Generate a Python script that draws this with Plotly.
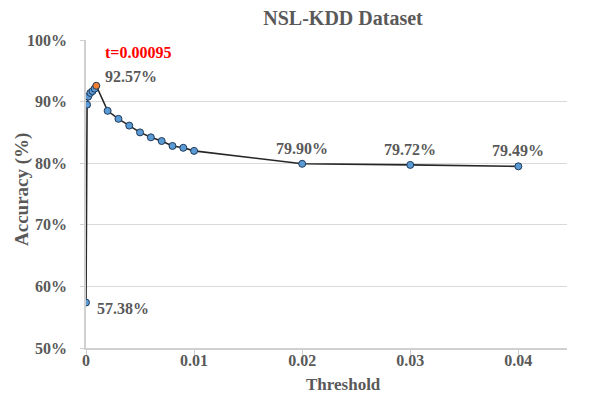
import plotly.graph_objects as go

thresholds = [0, 0.0001, 0.0002, 0.0004, 0.0006, 0.0008, 0.00095,
              0.002, 0.003, 0.004, 0.005, 0.006, 0.007, 0.008, 0.009, 0.01,
              0.02, 0.03, 0.04]
accuracy = [57.38, 89.5, 90.8, 91.4, 91.7, 92.1, 92.57,
            88.5, 87.2, 86.1, 85.0, 84.2, 83.6, 82.8, 82.5, 82.0,
            79.90, 79.72, 79.49]
best_t = 0.00095
best_acc = 92.57
labeled = [(0, 57.38, "57.38%"), (0.02, 79.90, "79.90%"),
           (0.03, 79.72, "79.72%"), (0.04, 79.49, "79.49%")]

y_ticks = [50, 60, 70, 80, 90, 100]
x_ticks = [0, 0.01, 0.02, 0.03, 0.04]
x_tick_text = ["0", "0.01", "0.02", "0.03", "0.04"]

FONT = "Liberation Serif"
GRAY = "#595959"

colors = ["#ED7D31" if t == best_t else "#5B9BD5" for t in thresholds]

fig = go.Figure()
fig.add_trace(go.Scatter(
    x=thresholds, y=accuracy, mode="lines+markers",
    line=dict(color="#262626", width=1.6),
    marker=dict(size=7, color=colors, line=dict(color="#1F3A5A", width=1)),
    showlegend=False, hoverinfo="x+y"))

for x, y, txt in labeled:
    if x == 0:
        fig.add_annotation(x=x, y=y, text=f"<b>{txt}</b>", showarrow=False,
                           xanchor="left", yanchor="middle", xshift=9, yshift=-6,
                           font=dict(family=FONT, size=16, color=GRAY))
    else:
        fig.add_annotation(x=x, y=y, text=f"<b>{txt}</b>", showarrow=False,
                           xanchor="center", yanchor="bottom", yshift=5,
                           font=dict(family=FONT, size=16, color=GRAY))

fig.add_annotation(x=best_t, y=best_acc, text=f"<b>{best_acc:.2f}%</b>",
                   showarrow=False, xanchor="left", yanchor="middle",
                   xshift=7, yshift=9,
                   font=dict(family=FONT, size=16, color=GRAY))
fig.add_annotation(x=best_t, y=best_acc, text=f"<b>t={best_t}</b>",
                   showarrow=False, xanchor="left", yanchor="middle",
                   xshift=7, yshift=33,
                   font=dict(family=FONT, size=16, color="#FF0000"))

# axis titles
fig.add_annotation(xref="paper", yref="paper", x=-0.133, y=0.513,
                   text="<b>Accuracy (%)</b>", textangle=-90, showarrow=False,
                   xanchor="center", yanchor="middle",
                   font=dict(family=FONT, size=19, color=GRAY))
fig.add_annotation(xref="paper", yref="paper", x=0.535, y=-0.117,
                   text="<b>Threshold</b>", showarrow=False,
                   xanchor="center", yanchor="middle",
                   font=dict(family=FONT, size=17, color=GRAY))

fig.update_layout(
    width=595, height=393,
    margin=dict(l=78, r=36, t=32, b=53),
    paper_bgcolor="white", plot_bgcolor="white",
    title=dict(text="<b>NSL-KDD Dataset</b>", x=0.563, xanchor="center",
               y=0.975, yanchor="middle", automargin=False,
               font=dict(family=FONT, size=20, color=GRAY)),
    xaxis=dict(range=[0, 0.0445], tickvals=x_ticks, ticktext=x_tick_text,
               automargin=False,
               showgrid=False, zeroline=False, showline=True,
               linecolor="#D0D0D0", linewidth=1.5,
               ticks="outside", ticklen=5, tickcolor="#D0D0D0",
               ticklabelstandoff=-8,
               tickfont=dict(family=FONT, size=16, color=GRAY, weight="bold")),
    yaxis=dict(range=[50, 100], tickvals=y_ticks,
               ticktext=[f"{v}%" for v in y_ticks],
               automargin=False,
               showgrid=True, gridcolor="#D9D9D9", gridwidth=1,
               zeroline=False, showline=True, linecolor="#D0D0D0", linewidth=1.5,
               ticks="outside", ticklen=4, tickcolor="#D0D0D0",
               ticklabelstandoff=10,
               tickfont=dict(family=FONT, size=16, color=GRAY, weight="bold")),
)

fig.write_html("out.html")
